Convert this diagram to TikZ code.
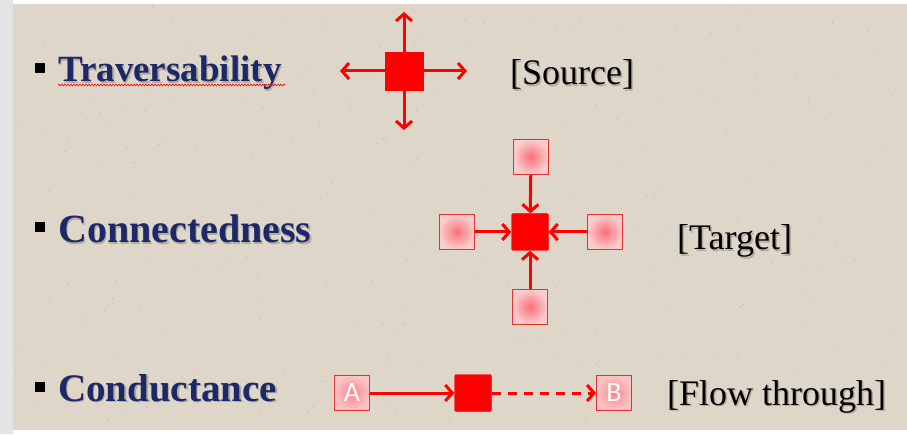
\documentclass[tikz,border=0pt]{standalone}
\usepackage{fontspec}
\setmainfont{Liberation Serif}
\newfontfamily\boxfont{Carlito}
\usetikzlibrary{arrows.meta,decorations.pathmorphing}
\definecolor{bgbeige}{RGB}{222,214,200}
\definecolor{stripgrey}{RGB}{228,228,228}
\definecolor{navy}{RGB}{28,40,104}
\definecolor{hotred}{RGB}{255,0,0}
\definecolor{pinkin}{RGB}{250,112,122}
\definecolor{pinkout}{RGB}{250,205,205}
\definecolor{pinkedge}{RGB}{228,50,50}
\begin{document}
\begin{tikzpicture}[x=1pt,y=1pt,
  headlabel/.style={font=\fontsize{#1}{40}\selectfont\bfseries, text=navy, anchor=base west, inner sep=0pt},
  headshadow/.style={font=\fontsize{#1}{40}\selectfont\bfseries, text=black, opacity=0.2, anchor=base west, inner sep=0pt},
  sidelabel/.style={font=\fontsize{36}{38}\selectfont, text=black, anchor=base west, inner sep=0pt},
  sideshadow/.style={font=\fontsize{36}{38}\selectfont, text=black, opacity=0.2, anchor=base west, inner sep=0pt},
  bulletsq/.style={fill=black, minimum size=10pt, inner sep=0pt},
  mainsq/.style={fill=hotred, draw=hotred, minimum size=37pt, inner sep=0pt},
  pinksq/.style={draw=pinkedge, line width=0.9pt, inner color=pinkin, outer color=pinkout, minimum size=35pt, inner sep=0pt},
  letsq/.style={pinksq, inner color=pinkin!85!white, outer color=pinkout!90!pinkin, text=white, font=\boxfont\fontsize{28}{28}\selectfont},
  redarrow/.style={draw=hotred, line width=3pt, -{Straight Barb[length=7pt,width=16pt]}},
]
\useasboundingbox (0,0) rectangle (907,434);
% background
\fill[white] (0,0) rectangle (907,434);
\fill[stripgrey] (0,0) rectangle (13,434);
\fill[bgbeige] (13,4) rectangle (907,430);
\pgfmathsetseed{7}
\foreach \i in {1,...,260}{
  \pgfmathsetmacro{\px}{15+rnd*890}
  \pgfmathsetmacro{\py}{6+rnd*422}
  \fill[black!60, opacity=0.25] (\px,\py) circle (0.7pt);
}
% ---------- Traversability ----------
\node[bulletsq] (b1) at (40,366) {};
\node[headshadow=37] at (59.5,350.5) {Traversability};
\node[headlabel=37] (t1) at (58,352) {Traversability};
\draw[red, line width=0.6pt, decorate, decoration={snake, amplitude=0.9pt, segment length=3pt}] (58,349) -- (285,349);
\node[mainsq, minimum size=38pt] (src) at (404,363) {};
\coordinate (su) at (404,422);
\coordinate (sd) at (404,304);
\coordinate (sl) at (340,363);
\coordinate (sr) at (467,363);
\draw[redarrow] (src.north) -- (su);
\draw[redarrow] (src.south) -- (sd);
\draw[redarrow] (src.west) -- (sl);
\draw[redarrow] (src.east) -- (sr);
\node[sideshadow] at (511.5,347.5) {[Source]};
\node[sidelabel] (l1) at (510,349) {[Source]};
% ---------- Connectedness ----------
\node[bulletsq] (b2) at (40,207) {};
\node[headshadow=40] at (59.5,189.5) {Connectedness};
\node[headlabel=40] (t2) at (58,191) {Connectedness};
\node[mainsq, rounded corners=1.5pt] (tgt) at (530,202) {};
\node[pinksq] (nt) at (531,277) {};
\node[pinksq] (nb) at (530,127) {};
\node[pinksq] (nl) at (457,202) {};
\node[pinksq] (nr) at (605,202) {};
\draw[redarrow] (nt) -- (tgt);
\draw[redarrow] (nb) -- (tgt);
\draw[redarrow] (nl) -- (tgt);
\draw[redarrow] (nr) -- (tgt);
\node[sideshadow] at (678.5,182.5) {[Target]};
\node[sidelabel] (l2) at (677,184) {[Target]};
% ---------- Conductance ----------
\node[bulletsq] (b3) at (40,47) {};
\node[headshadow=39] at (59.5,31.5) {Conductance};
\node[headlabel=39] (t3) at (58,33) {Conductance};
\node[letsq] (na) at (352,41) {A};
\node[mainsq, rounded corners=1.5pt] (flw) at (473,41) {};
\node[letsq] (nbb) at (614,41) {B};
\draw[redarrow] (na) -- (flw);
\draw[redarrow, dash pattern=on 9pt off 7pt] (flw) -- (nbb);
\node[sideshadow] at (668.5,27.5) {[Flow through]};
\node[sidelabel] (l3) at (667,29) {[Flow through]};
\end{tikzpicture}
\end{document}
